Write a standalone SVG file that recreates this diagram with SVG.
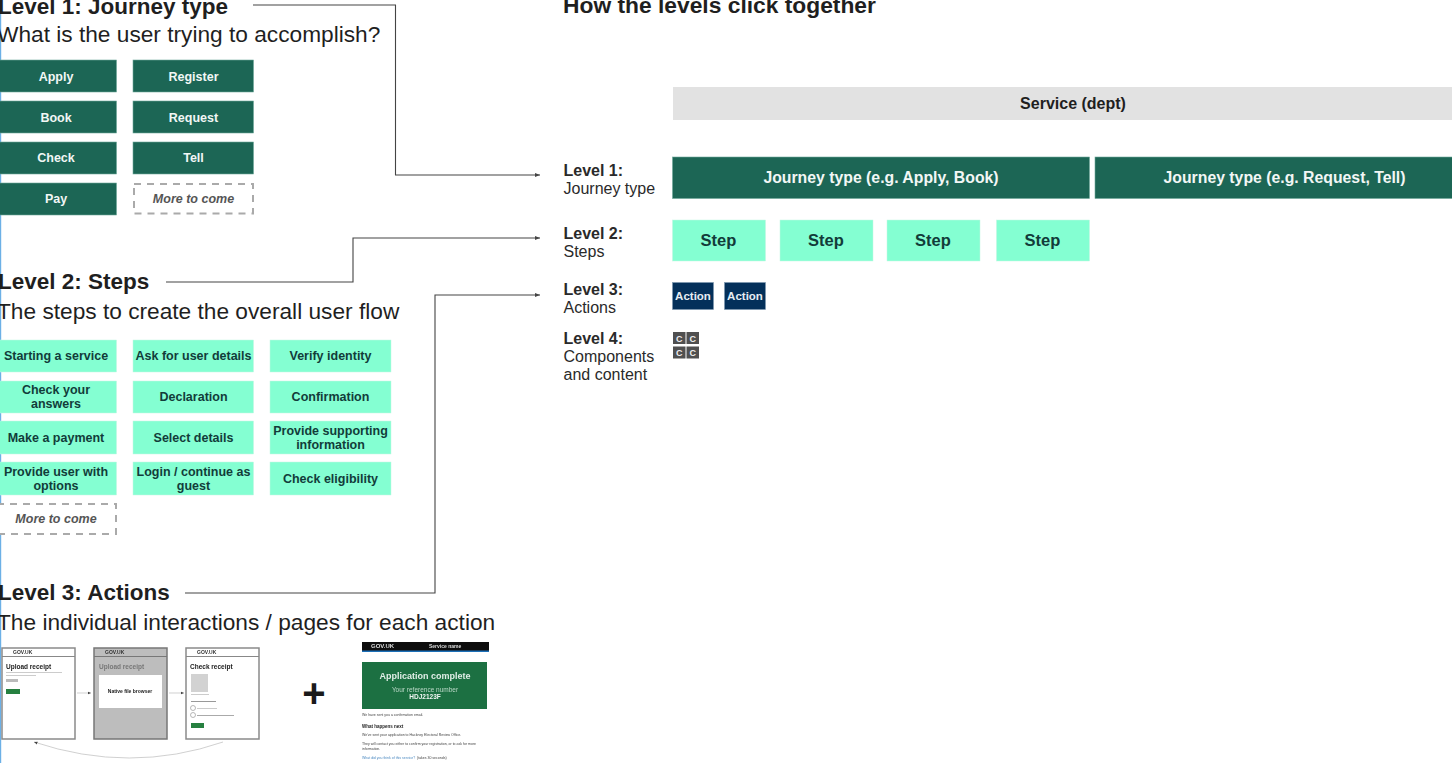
<svg xmlns="http://www.w3.org/2000/svg" width="1452" height="763" viewBox="0 0 1452 763">
<style>
svg{fill:#1f1f1f}
text{font-family:"Liberation Sans",Arial,sans-serif}
.h{font-size:22.5px;font-weight:700}
.s{font-size:22.7px}
.t{font-size:12.5px;font-weight:700;text-anchor:middle}
.g{fill:#1c6655;stroke:#6fa89b;stroke-width:.6}
.gt{fill:#f2f7f5}
.m{fill:#84ffd2;stroke:#c4f5e2;stroke-width:.5}
.mt{fill:#123c3a}
.d{fill:#fff;stroke:#aaa;stroke-width:2;stroke-dasharray:7 6}
.it{fill:#555;font-style:italic}
.l{font-size:16px;fill:#2a2a2a}
.b{font-weight:700}
.c{fill:none;stroke:#444;stroke-width:1.1}
.sc{fill:#fff;stroke:#8a8a8a;stroke-width:1.5}
.tiny{font-size:5px;font-weight:700;fill:#333}
.ln{fill:#ccc}
.j{font-size:15.8px;font-weight:700;fill:#f2f7f5;text-anchor:middle}
.st{font-size:16.5px;font-weight:700;fill:#123c3a;text-anchor:middle}
.ac{font-size:11.5px;font-weight:700;fill:#e6edf3;text-anchor:middle}
.cc{font-size:9px;font-weight:700;fill:#eee;text-anchor:middle}
</style>
<defs><marker id="a" markerWidth="6" markerHeight="6" refX="5" refY="3" orient="auto"><path d="M0 1L5 3L0 5z" fill="#444"/></marker>
<filter id="soft" x="-5%" y="-5%" width="110%" height="110%"><feGaussianBlur stdDeviation="0.35"/></filter></defs>
<rect width="1452" height="763" fill="#fff"/>
<rect x="0" y="0" width="1.2" height="763" fill="#6cb0e6"/>
<g id="connectors">
<path class="c" marker-end="url(#a)" d="M253 5H395.500V175H540"/>
<path class="c" marker-end="url(#a)" d="M166 282H353V238H540"/>
<path class="c" marker-end="url(#a)" d="M185 593H435V295H540"/>
</g>
<g id="heading-1"><text class="h" x="-2" y="14">Level 1: Journey type</text><text class="s" x="-3" y="42">What is the user trying to accomplish?</text></g>
<g id="apply"><rect class="g" x="-2" y="60" width="118.500" height="32"/><text class="t gt" x="56" y="80.500">Apply</text></g>
<g id="register"><rect class="g" x="133" y="60" width="120.500" height="32"/><text class="t gt" x="193.500" y="80.500">Register</text></g>
<g id="book"><rect class="g" x="-2" y="101" width="118.500" height="32"/><text class="t gt" x="56" y="121.500">Book</text></g>
<g id="request"><rect class="g" x="133" y="101" width="120.500" height="32"/><text class="t gt" x="193.500" y="121.500">Request</text></g>
<g id="check"><rect class="g" x="-2" y="142" width="118.500" height="32"/><text class="t gt" x="56" y="162">Check</text></g>
<g id="tell"><rect class="g" x="133" y="142" width="120.500" height="32"/><text class="t gt" x="193.500" y="162">Tell</text></g>
<g id="pay"><rect class="g" x="-2" y="183" width="118.500" height="32"/><text class="t gt" x="56" y="203">Pay</text></g>
<g id="more-1"><rect class="d" x="134" y="184" width="119" height="29.500"/><text class="t it" x="193.500" y="203">More to come</text></g>

<g id="heading-2"><text class="h" x="-2" y="289">Level 2: Steps</text><text class="s" x="-3" y="319">The steps to create the overall user flow</text></g>
<g id="s1"><rect class="m" x="-2" y="340" width="118.500" height="32"/><text class="t mt" x="56" y="360">Starting a service</text></g>
<g id="s2"><rect class="m" x="133" y="340" width="120.500" height="32"/><text class="t mt" x="193.500" y="360">Ask for user details</text></g>
<g id="s3"><rect class="m" x="270" y="340" width="121" height="32"/><text class="t mt" x="330.500" y="360">Verify identity</text></g>
<g id="s4"><rect class="m" x="-2" y="381" width="118.500" height="32"/><text class="t mt" x="56" y="394">Check your</text><text class="t mt" x="56" y="408">answers</text></g>
<g id="s5"><rect class="m" x="133" y="381" width="120.500" height="32"/><text class="t mt" x="193.500" y="401">Declaration</text></g>
<g id="s6"><rect class="m" x="270" y="381" width="121" height="32"/><text class="t mt" x="330.500" y="401">Confirmation</text></g>
<g id="s7"><rect class="m" x="-2" y="421" width="118.500" height="33"/><text class="t mt" x="56" y="441.500">Make a payment</text></g>
<g id="s8"><rect class="m" x="133" y="421" width="120.500" height="33"/><text class="t mt" x="193.500" y="441.500">Select details</text></g>
<g id="s9"><rect class="m" x="270" y="421" width="121" height="33"/><text class="t mt" x="330.500" y="435">Provide supporting</text><text class="t mt" x="330.500" y="449">information</text></g>
<g id="s10"><rect class="m" x="-2" y="462" width="118.500" height="33"/><text class="t mt" x="56" y="476">Provide user with</text><text class="t mt" x="56" y="490">options</text></g>
<g id="s11"><rect class="m" x="133" y="462" width="120.500" height="33"/><text class="t mt" x="193.500" y="476">Login / continue as</text><text class="t mt" x="193.500" y="490">guest</text></g>
<g id="s12"><rect class="m" x="270" y="462" width="121" height="33"/><text class="t mt" x="330.500" y="482.500">Check eligibility</text></g>
<g id="more-2"><rect class="d" x="-3" y="504" width="119" height="30"/><text class="t it" x="56" y="523">More to come</text></g>

<g id="heading-3"><text class="h" x="-2" y="600">Level 3: Actions</text><text class="s" x="-3" y="630">The individual interactions / pages for each action</text></g>
<g filter="url(#soft)">
<g id="screen-1"><rect class="sc" x="2" y="648" width="73" height="91"/><path d="M2 656.500H75" stroke="#888"/><text class="tiny" x="13" y="654">GOV.UK</text><text x="6" y="669" font-size="6.500" font-weight="700" fill="#222">Upload receipt</text><rect class="ln" x="6" y="672" width="56" height="1"/><rect class="ln" x="6" y="675" width="30" height="1"/><rect x="6" y="679" width="12" height="3" fill="#bbb"/><rect x="6" y="689" width="14" height="5" fill="#28803f"/></g>
<g id="screen-2"><rect x="94" y="648" width="73" height="91" fill="#bdbdbd" stroke="#777" stroke-width="1.500"/><path d="M94 656.500H167" stroke="#777"/><text class="tiny" x="105" y="654">GOV.UK</text><text x="99" y="669" font-size="6.500" font-weight="700" fill="#777">Upload receipt</text><rect x="99" y="675" width="63" height="33" fill="#fff"/><text x="130" y="693" font-size="5" font-weight="700" fill="#222" text-anchor="middle">Native file browser</text></g>
<g id="screen-3"><rect class="sc" x="186" y="648" width="73" height="91"/><path d="M186 656.500H259" stroke="#888"/><text class="tiny" x="197" y="654">GOV.UK</text><text x="190" y="669" font-size="6.500" font-weight="700" fill="#222">Check receipt</text><rect x="191" y="674" width="17" height="18" fill="#d2d2d2"/><rect class="ln" x="191" y="694" width="18" height="1"/><rect x="191" y="701" width="25" height="1" fill="#999"/><circle cx="193" cy="708" r="2.500" fill="#fff" stroke="#888" stroke-width=".6"/><rect class="ln" x="197" y="708" width="20" height="1"/><circle cx="193" cy="715" r="2.500" fill="#fff" stroke="#888" stroke-width=".6"/><rect x="197" y="715" width="37" height="1" fill="#aaa"/><rect x="191" y="723" width="13" height="5" fill="#28803f"/></g>
<g id="flow" fill="none" stroke="#bbb" stroke-width=".7"><path marker-end="url(#a)" d="M77 693H91"/><path marker-end="url(#a)" d="M169 693H184"/><path marker-end="url(#a)" d="M223 742Q130 774 34 742"/></g>
<g id="confirmation"><rect x="362" y="642" width="127" height="9" fill="#0b0c0c"/><rect x="362" y="650.500" width="127" height="1.500" fill="#1d70b8"/><text x="371" y="648" font-size="6" font-weight="700" fill="#ddd">GOV.UK</text><text x="429" y="648" font-size="5" font-weight="700" fill="#ddd">Service name</text><rect x="362" y="662" width="125" height="47" fill="#1d6f42"/><text x="425" y="679" font-size="9" font-weight="700" fill="#dfeee6" text-anchor="middle">Application complete</text><text x="425" y="692" font-size="6.500" fill="#b8d8c6" text-anchor="middle">Your reference number</text><text x="425" y="699" font-size="6.500" font-weight="700" fill="#eef6f1" text-anchor="middle">HDJ2123F</text><text x="362" y="716" font-size="3.500" fill="#444">We have sent you a confirmation email.</text><text x="362" y="727.500" font-size="4.500" font-weight="700" fill="#222">What happens next</text><text x="362" y="736" font-size="3.500" fill="#444">We've sent your application to Hackney Electoral Review Office.</text><text x="362" y="745" font-size="3.500" fill="#444">They will contact you either to confirm your registration, or to ask for more</text><text x="362" y="750" font-size="3.500" fill="#444">information.</text><text x="362" y="759" font-size="3.500" fill="#4a88c0">What did you think of this service?</text><text x="417" y="759" font-size="3.500" fill="#444">(takes 30 seconds)</text></g>
</g>
<g id="plus"><text x="314" y="707" font-size="40" font-weight="700" text-anchor="middle" fill="#1a1a1a">+</text></g>

<g id="title"><text x="563" y="13" font-size="22.800px" font-weight="700">How the levels click together</text></g>
<g id="service"><rect x="673" y="87" width="779" height="33" fill="#e2e2e2"/><text x="1073" y="109" font-size="16px" font-weight="700" text-anchor="middle">Service (dept)</text></g>
<g id="label-1"><text class="l b" x="563.500" y="176">Level 1:</text><text class="l" x="563.500" y="194">Journey type</text></g>
<g id="label-2"><text class="l b" x="563.500" y="239">Level 2:</text><text class="l" x="563.500" y="257">Steps</text></g>
<g id="label-3"><text class="l b" x="563.500" y="295">Level 3:</text><text class="l" x="563.500" y="313">Actions</text></g>
<g id="label-4"><text class="l b" x="563.500" y="343.500">Level 4:</text><text class="l" x="563.500" y="361.500">Components</text><text class="l" x="563.500" y="379.500">and content</text></g>
<g id="journey-a"><rect class="g" x="672.500" y="157" width="417" height="41.500"/><text class="j" x="881" y="183">Journey type (e.g. Apply, Book)</text></g>
<g id="journey-b"><rect class="g" x="1095" y="157" width="359" height="41.500"/><text class="j" x="1284.500" y="183">Journey type (e.g. Request, Tell)</text></g>
<g id="step-1"><rect class="m" x="672.500" y="220" width="93" height="41"/><text class="st" x="718.500" y="245.500">Step</text></g>
<g id="step-2"><rect class="m" x="780" y="220" width="93" height="41"/><text class="st" x="826" y="245.500">Step</text></g>
<g id="step-3"><rect class="m" x="887" y="220" width="93" height="41"/><text class="st" x="933" y="245.500">Step</text></g>
<g id="step-4"><rect class="m" x="996.500" y="220" width="93" height="41"/><text class="st" x="1042.500" y="245.500">Step</text></g>
<g id="action-1"><rect x="672.500" y="282.500" width="41" height="27" fill="#04305a" stroke="#7d98b0" stroke-width=".6"/><text class="ac" x="693" y="300">Action</text></g>
<g id="action-2"><rect x="724.500" y="282.500" width="41" height="27" fill="#04305a" stroke="#7d98b0" stroke-width=".6"/><text class="ac" x="745" y="300">Action</text></g>
<g id="c1"><rect x="673" y="332" width="12.500" height="12" fill="#505050"/><text class="cc" x="679.200" y="341.500">C</text></g>
<g id="c2"><rect x="686.500" y="332" width="12.500" height="12" fill="#505050"/><text class="cc" x="692.700" y="341.500">C</text></g>
<g id="c3"><rect x="673" y="346.500" width="12.500" height="12" fill="#505050"/><text class="cc" x="679.200" y="356">C</text></g>
<g id="c4"><rect x="686.500" y="346.500" width="12.500" height="12" fill="#505050"/><text class="cc" x="692.700" y="356">C</text></g>
</svg>
